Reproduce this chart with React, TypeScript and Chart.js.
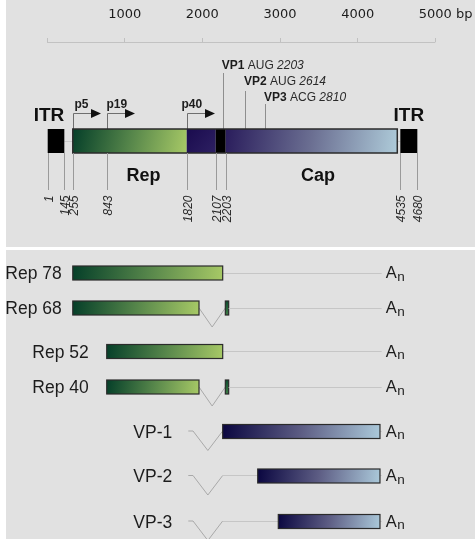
import React, { useEffect, useRef } from 'react';
import { Chart, registerables } from 'chart.js';

Chart.register(...registerables);

// ---------------- data ----------------
const AXIS_TICKS = [0, 1000, 2000, 3000, 4000, 5000];
const AXIS_UNIT = 'bp';

const SITE_LABELS = ['1', '145', '255', '843', '1820', '2107', '2203', '4535', '4680'];
const SITE_POS = [9, 223, 332, 769, 1799, 2172, 2301, 4549, 4768];

const ITR_LEFT = [9, 223];
const ITR_RIGHT = [4549, 4768];
const ITR_NAME = 'ITR';
const REP_REGION = [332, 1799];
const P40_REGION = [1799, 2172];
const LINK_REGION = [2172, 2301];
const CAP_REGION = [2301, 4510];
const REGION_NAMES = ['Rep', 'Cap'];
const REGION_LABEL_POS = [1242, 3489];

const PROMOTERS = ['p5', 'p19', 'p40'];
const PROMOTER_POS = [332, 769, 1799];

const START_NAMES = ['VP1', 'VP2', 'VP3'];
const START_CODONS = ['AUG', 'AUG', 'ACG'];
const START_SITES = ['2203', '2614', '2810'];
const START_POS = [2262, 2549, 2807];

const REP_NAMES = ['Rep 78', 'Rep 68', 'Rep 52', 'Rep 40'];
const REP_START = [332, 332, 769, 769];
const REP_END = [2262, 1957, 2262, 1957];
const REP_SPLICED = [false, true, false, true];
const REP_EXON2 = [2296, 2339];

const CAP_NAMES = ['VP-1', 'VP-2', 'VP-3'];
const CAP_START = [2262, 2713, 2978];
const CAP_END = 4287;
const CAP_INTRON = [1819, 1880, 2262];
const POLYA_SITE = 4309;

// ---------------- layout (pixels) ----------------
const W = 475;
const H = 539;
const AXIS_H = 42;
const L = {
  codonBase: [69.3, 85, 100.5],
  codonLineTop: [73, 91, 104],
  promoterBase: 107.5,
  promoterDx: [1, -1, -6],
  arrowY: 113,
  arrowLen: 27.5,
  barTop: 129,
  barBot: 153,
  itrBase: 120.7,
  regionBase: 181,
  siteLineBot: 190,
  siteLabelTop: 195.5,
  repRowY: [273, 308, 351.5, 387],
  repLabelGap: [11, 11, 18, 18],
  capRowY: [431.5, 476, 521.5],
  capLabelDx: -55,
  trHalf: 7,
  intronDepth: 19,
};

const SANS = '"Liberation Sans", Arial, Helvetica, sans-serif';
const TXT = '#1c1c1c';
const REP_STOPS: [number, string][] = [[0, '#053f29'], [0.5, '#55854a'], [1, '#a7c966']];
const CAP_STOPS: [number, string][] = [[0, '#2a1d5c'], [0.5, '#6b6f92'], [1, '#aecbd9']];
const VP_STOPS: [number, string][] = [[0, '#0a0640'], [0.5, '#5d5d84'], [1, '#abc9da']];
const P40_STOPS: [number, string][] = [[0, '#1a0b4e'], [1, '#2d2062']];

function hline(ctx: CanvasRenderingContext2D, x0: number, x1: number, y: number, color: string) {
  ctx.strokeStyle = color;
  ctx.lineWidth = 1;
  ctx.beginPath();
  const yy = Math.round(y) + 0.5;
  ctx.moveTo(x0, yy);
  ctx.lineTo(x1, yy);
  ctx.stroke();
}
function vline(ctx: CanvasRenderingContext2D, x: number, y0: number, y1: number, color: string) {
  ctx.strokeStyle = color;
  ctx.lineWidth = 1;
  ctx.beginPath();
  const xx = Math.round(x) + 0.5;
  ctx.moveTo(xx, y0);
  ctx.lineTo(xx, y1);
  ctx.stroke();
}
function gradRect(ctx: CanvasRenderingContext2D, x0: number, x1: number, y0: number, y1: number, stops: [number, string][]) {
  const g = ctx.createLinearGradient(x0, y0, x1, y1);
  stops.forEach(([o, c]) => g.addColorStop(o, c));
  ctx.fillStyle = g;
  ctx.fillRect(x0, y0, x1 - x0, y1 - y0);
}
function outline(ctx: CanvasRenderingContext2D, x0: number, x1: number, y0: number, y1: number, lw: number) {
  ctx.strokeStyle = '#2b2b2b';
  ctx.lineWidth = lw;
  ctx.strokeRect(x0, y0, x1 - x0, y1 - y0);
}
function text(ctx: CanvasRenderingContext2D, s: string, x: number, y: number, font: string, align: CanvasTextAlign = 'left', color = TXT) {
  ctx.font = font;
  ctx.fillStyle = color;
  ctx.textAlign = align;
  ctx.textBaseline = 'alphabetic';
  ctx.fillText(s, x, y);
  return ctx.measureText(s).width;
}
function polyA(ctx: CanvasRenderingContext2D, x: number, yc: number) {
  const w = text(ctx, 'A', x, yc + 5.2, `16.5px ${SANS}`);
  text(ctx, 'n', x + w + 0.5, yc + 7.8, `13.5px ${SANS}`);
}

const bgPlugin = {
  id: 'bg',
  beforeDraw(chart: any) {
    const { ctx, width, height } = chart;
    ctx.save();
    ctx.fillStyle = '#e1e1e1';
    ctx.fillRect(0, 0, width, height);
    ctx.fillStyle = '#ffffff';
    ctx.fillRect(0, 0, 6, height);
    ctx.fillRect(0, 247, width, 3);
    ctx.restore();
  },
};

const diagramPlugin = {
  id: 'aavDiagram',
  afterDraw(chart: any) {
    const ctx: CanvasRenderingContext2D = chart.ctx;
    const xs = chart.scales.x;
    const ys = chart.scales.y;
    const X = (v: number) => xs.getPixelForValue(v);
    const Y = (v: number) => ys.getPixelForValue(v);
    ctx.save();

    // axis baseline and unit
    hline(ctx, X(AXIS_TICKS[0]), X(AXIS_TICKS[AXIS_TICKS.length - 1]), Y(AXIS_H) - 0.5, '#c2c2c2');
    {
      const f = '13px "DejaVu Sans", sans-serif';
      ctx.font = f;
      const lastLbl = String(AXIS_TICKS[AXIS_TICKS.length - 1]);
      const w = ctx.measureText(lastLbl).width;
      ctx.fillStyle = TXT;
      ctx.textAlign = 'left';
      ctx.textBaseline = 'middle';
      ctx.fillText(' ' + AXIS_UNIT, X(AXIS_TICKS[AXIS_TICKS.length - 1]) + w / 2, 14.2);
    }

    const bt = Y(L.barTop);
    const bb = Y(L.barBot);
    const bm = (bt + bb) / 2;

    // faint connectors between ITRs and coding region
    hline(ctx, X(ITR_LEFT[1]), X(REP_REGION[0]), bm, '#c9c9c9');
    hline(ctx, X(CAP_REGION[1]), X(ITR_RIGHT[0]), bm, '#c9c9c9');

    // codon lines + labels
    START_NAMES.forEach((nm, i) => {
      const px = X(START_POS[i]);
      vline(ctx, px, Y(L.codonLineTop[i]), bt, '#8e8e8e');
      let x = px - 1;
      const by = Y(L.codonBase[i]);
      x += text(ctx, nm, x, by, `bold 12px ${SANS}`);
      x += text(ctx, ' ' + START_CODONS[i] + ' ', x, by, `12px ${SANS}`, 'left', '#2a2a2a');
      text(ctx, START_SITES[i], x, by, `italic 12px ${SANS}`, 'left', '#2a2a2a');
    });

    // promoters
    PROMOTERS.forEach((p, i) => {
      const px = Math.round(X(PROMOTER_POS[i])) + 0.5;
      const ay = Math.round(Y(L.arrowY)) + 0.5;
      const tip = px + L.arrowLen;
      ctx.strokeStyle = '#6f6f6f';
      ctx.lineWidth = 1;
      ctx.beginPath();
      ctx.moveTo(px, bt);
      ctx.lineTo(px, ay);
      ctx.lineTo(tip - 9, ay);
      ctx.stroke();
      ctx.fillStyle = '#111';
      ctx.beginPath();
      ctx.moveTo(tip, ay);
      ctx.lineTo(tip - 10, ay - 4.5);
      ctx.lineTo(tip - 10, ay + 4.5);
      ctx.closePath();
      ctx.fill();
      text(ctx, p, px + L.promoterDx[i], Y(L.promoterBase), `bold 12px ${SANS}`);
    });

    // ITRs
    ctx.fillStyle = '#000';
    ctx.fillRect(X(ITR_LEFT[0]), bt, X(ITR_LEFT[1]) - X(ITR_LEFT[0]), bb - bt);
    ctx.fillRect(X(ITR_RIGHT[0]), bt, X(ITR_RIGHT[1]) - X(ITR_RIGHT[0]), bb - bt);
    text(ctx, ITR_NAME, X(ITR_LEFT[1]), Y(L.itrBase), `bold 19px ${SANS}`, 'right', '#111');
    text(ctx, ITR_NAME, (X(ITR_RIGHT[0]) + X(ITR_RIGHT[1])) / 2, Y(L.itrBase), `bold 19px ${SANS}`, 'center', '#111');

    // main coding bar
    gradRect(ctx, X(REP_REGION[0]), X(REP_REGION[1]), bt, bb, REP_STOPS);
    gradRect(ctx, X(P40_REGION[0]), X(P40_REGION[1]), bt, bb, P40_STOPS);
    ctx.fillStyle = '#000';
    ctx.fillRect(X(LINK_REGION[0]), bt, X(LINK_REGION[1]) - X(LINK_REGION[0]), bb - bt);
    gradRect(ctx, X(CAP_REGION[0]), X(CAP_REGION[1]), bt, bb, CAP_STOPS);
    outline(ctx, X(REP_REGION[0]), X(CAP_REGION[1]), bt, bb, 1.5);

    // site lines + labels
    SITE_LABELS.forEach((s, i) => {
      const px = X(SITE_POS[i]);
      vline(ctx, px, bb, Y(L.siteLineBot), '#9a9a9a');
      ctx.save();
      ctx.translate(Math.round(px) + 2, Y(L.siteLabelTop));
      ctx.rotate(-Math.PI / 2);
      ctx.font = `italic 12px ${SANS}`;
      ctx.fillStyle = '#2a2a2a';
      ctx.textAlign = 'right';
      ctx.textBaseline = 'middle';
      ctx.fillText(s, 0, 0);
      ctx.restore();
    });

    // region labels
    REGION_NAMES.forEach((r, i) => {
      text(ctx, r, X(REGION_LABEL_POS[i]), Y(L.regionBase), `bold 18px ${SANS}`, 'center', '#111');
    });

    const th = L.trHalf;
    // Rep transcripts
    REP_NAMES.forEach((nm, i) => {
      const yc = Y(L.repRowY[i]);
      const x0 = X(REP_START[i]);
      const x1 = X(REP_END[i]);
      let lineStart = x1;
      if (REP_SPLICED[i]) {
        const a = X(REP_EXON2[0]);
        const b = X(REP_EXON2[1]);
        ctx.strokeStyle = '#a9a9a9';
        ctx.lineWidth = 1;
        ctx.beginPath();
        ctx.moveTo(x1, yc);
        ctx.lineTo((x1 + a) / 2, yc + L.intronDepth);
        ctx.lineTo(a, yc);
        ctx.stroke();
        gradRect(ctx, a, b, yc - th, yc + th, [[0, '#0b4a2e'], [1, '#3f7d45']]);
        outline(ctx, a, b, yc - th, yc + th, 1.2);
        lineStart = b;
      }
      hline(ctx, lineStart, X(POLYA_SITE), yc - 0.5, '#c6c6c6');
      gradRect(ctx, x0, x1, yc - th, yc + th, REP_STOPS);
      outline(ctx, x0, x1, yc - th, yc + th, 1.2);
      text(ctx, nm, x0 - L.repLabelGap[i], yc + 6.3, `17.5px ${SANS}`, 'right');
      polyA(ctx, X(POLYA_SITE) + 4, yc);
    });

    // Cap transcripts
    CAP_NAMES.forEach((nm, i) => {
      const yc = Y(L.capRowY[i]);
      const i0 = X(CAP_INTRON[0]);
      const i1 = X(CAP_INTRON[1]);
      const i2 = X(CAP_INTRON[2]);
      const x0 = X(CAP_START[i]);
      const x1 = X(CAP_END);
      ctx.strokeStyle = '#a9a9a9';
      ctx.lineWidth = 1;
      ctx.beginPath();
      ctx.moveTo(i0, yc - 0.5);
      ctx.lineTo(i1, yc - 0.5);
      ctx.lineTo((i1 + i2) / 2, yc + L.intronDepth);
      ctx.lineTo(i2, yc - 0.5);
      ctx.stroke();
      if (x0 > i2) hline(ctx, i2, x0, yc - 1, '#c6c6c6');
      hline(ctx, x1, X(POLYA_SITE), yc - 1, '#c6c6c6');
      gradRect(ctx, x0, x1, yc - th, yc + th, VP_STOPS);
      outline(ctx, x0, x1, yc - th, yc + th, 1.2);
      text(ctx, nm, i0 + L.capLabelDx, yc + 6.2, `17.5px ${SANS}`, 'left');
      polyA(ctx, X(POLYA_SITE) + 4, yc);
    });

    ctx.restore();
  },
};

export default function App() {
  const ref = useRef<HTMLCanvasElement>(null);
  useEffect(() => {
    const canvas = ref.current!;
    const xPxPerBp = 0.07767;
    const x0Px = 47;
    const chart = new Chart(canvas, {
      type: 'scatter',
      data: { datasets: [] },
      options: {
        responsive: false,
        animation: false,
        devicePixelRatio: 1,
        events: [],
        layout: { padding: 0 },
        plugins: {
          legend: { display: false },
          tooltip: { enabled: false },
          title: { display: false },
        },
        scales: {
          x: {
            type: 'linear',
            position: 'top',
            min: -x0Px / xPxPerBp,
            max: (W - x0Px) / xPxPerBp,
            afterBuildTicks: (s: any) => {
              s.ticks = AXIS_TICKS.map((v) => ({ value: v }));
            },
            afterFit: (s: any) => {
              s.height = AXIS_H;
            },
            border: { display: false },
            grid: { drawOnChartArea: false, drawTicks: true, tickLength: 4, color: '#c0c0c0', lineWidth: 1 },
            ticks: {
              autoSkip: false,
              maxRotation: 0,
              padding: 16,
              color: TXT,
              font: { family: '"DejaVu Sans", sans-serif', size: 13 },
              callback: (v: any) => (v === 0 ? '' : String(v)),
            },
          },
          y: { type: 'linear', display: false, min: AXIS_H, max: H, reverse: true },
        },
      } as any,
      plugins: [bgPlugin, diagramPlugin],
    });
    return () => chart.destroy();
  }, []);
  return (
    <div style={{ position: 'absolute', left: 0, top: 0, width: W, height: H }}>
      <canvas ref={ref} width={W} height={H} style={{ display: 'block', width: W, height: H }} />
    </div>
  );
}
